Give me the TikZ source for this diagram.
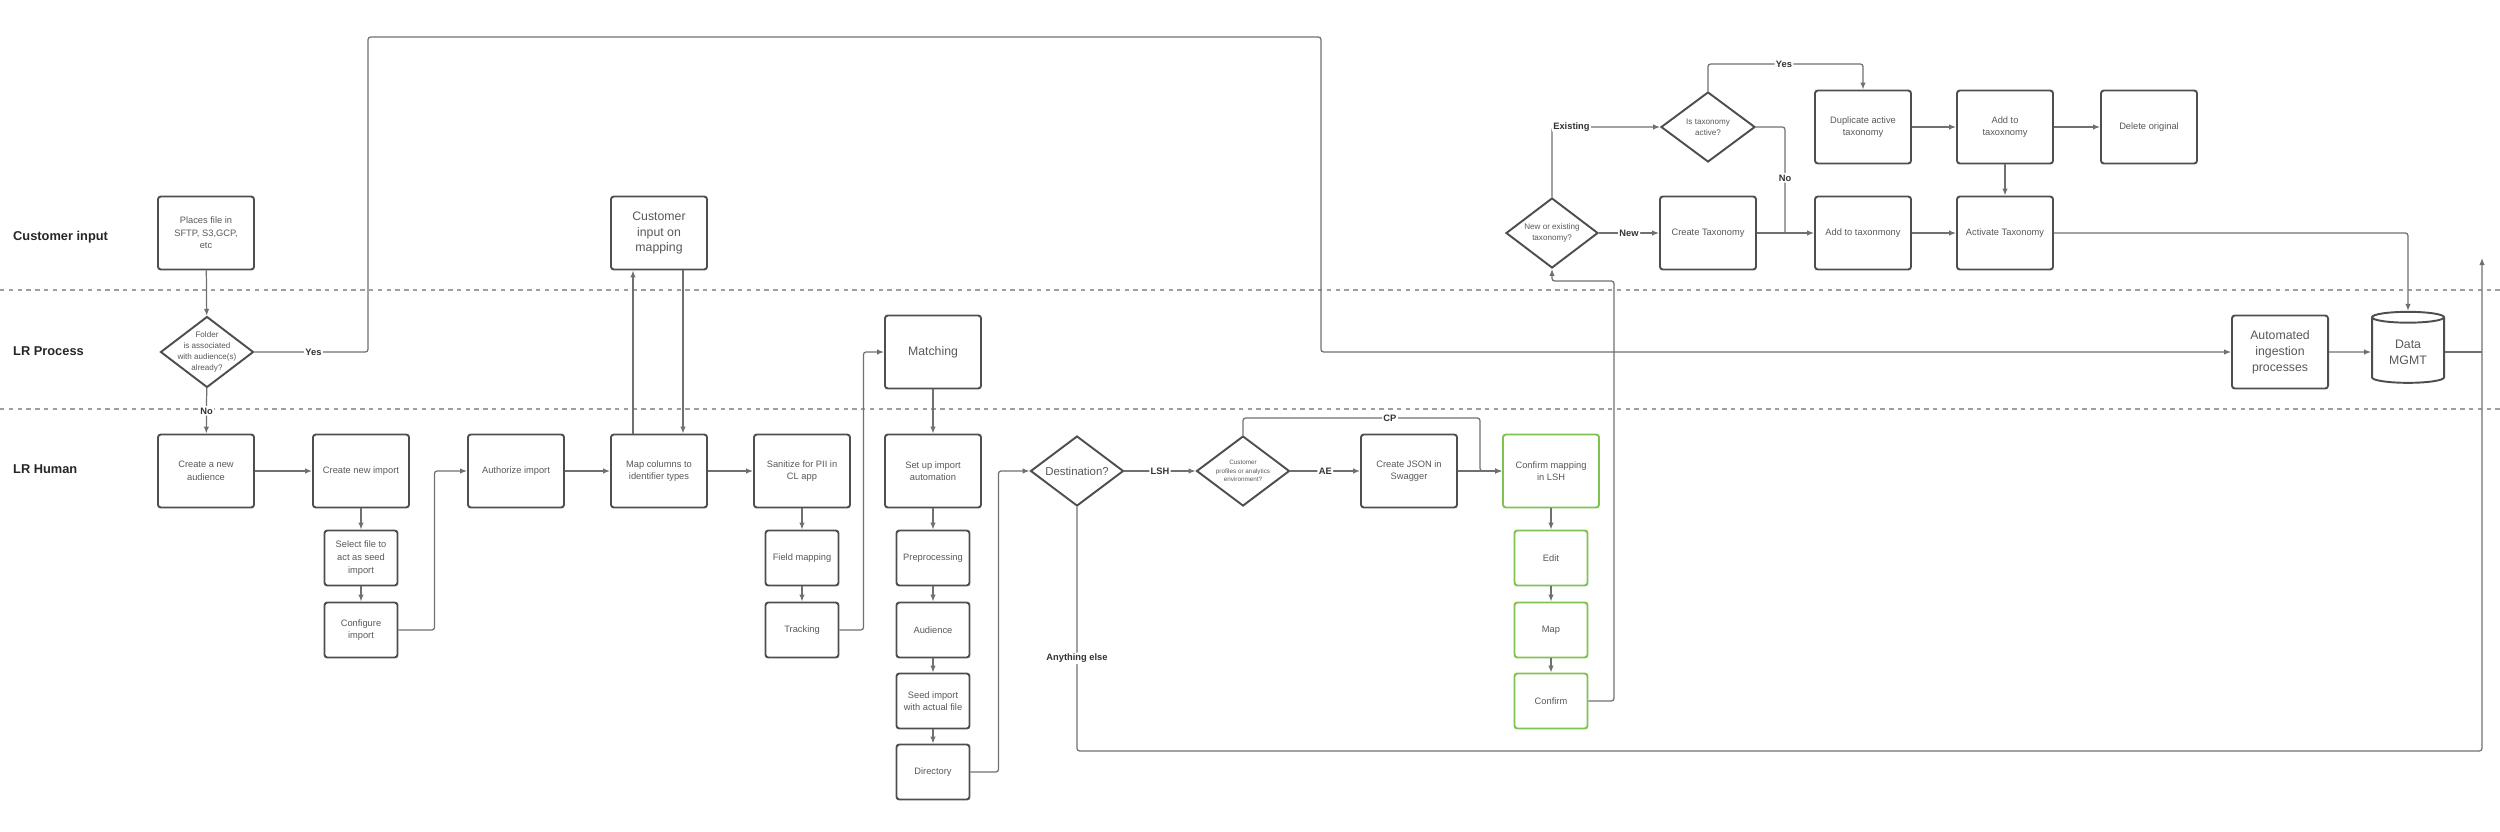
\documentclass[tikz,border=0pt]{standalone}
\usepackage{fontspec}
\setmainfont{Liberation Sans}
\usetikzlibrary{shapes.geometric,arrows.meta}

\definecolor{cinzalinha}{RGB}{112,112,112}
\definecolor{borda}{RGB}{78,78,78}
\definecolor{texto}{RGB}{88,88,88}
\definecolor{verde}{RGB}{128,194,78}

\tikzset{
  caixa/.style={draw=borda, line width=1.1pt, rounded corners=1.6pt,
    minimum width=1.92cm, minimum height=1.46cm, inner sep=1pt,
    align=center, text=texto, font=\fontsize{5.3}{7.2}\selectfont},
  caixap/.style={caixa, minimum width=1.46cm, minimum height=1.10cm},
  verdebox/.style={draw=verde},
  grande/.style={font=\fontsize{7}{9}\selectfont},
  decisao/.style={diamond, draw=borda, line width=1.1pt,
    minimum width=1.86cm, minimum height=1.40cm, inner sep=-4pt,
    align=center, text=texto, font=\fontsize{4.6}{6.2}\selectfont},
  banco/.style={cylinder, shape border rotate=90, aspect=0.22,
    draw=borda, line width=1.1pt, minimum width=1.44cm,
    minimum height=1.42cm, align=center, text=texto, grande},
  seta/.style={draw=cinzalinha, line width=0.7pt, rounded corners=1.5pt,
    -{Latex[length=1.4mm,width=1.1mm]}},
  fio/.style={draw=cinzalinha, line width=0.7pt, rounded corners=1.5pt},
  rotulo/.style={fill=white, inner sep=0.8pt, text=black!80,
    font=\fontsize{5.3}{6}\selectfont\bfseries},
  faixa/.style={anchor=west, text=black!85,
    font=\fontsize{7.3}{8}\selectfont\bfseries},
  divisa/.style={draw=gray!75, line width=0.7pt, dash pattern=on 2.5pt off 2.5pt}
}

\begin{document}
\begin{tikzpicture}

\useasboundingbox (0,0) rectangle (50,-16.62);

% FAIXAS
\draw[divisa] (0,-5.80) -- (50,-5.80);
\draw[divisa] (0,-8.18) -- (50,-8.18);

\node[faixa] (lcust) at (0.14,-4.74) {Customer input};
\node[faixa] (lproc) at (0.14,-7.02) {LR Process};
\node[faixa] (lhum) at (0.14,-9.38) {LR Human};

% AUDIENCIA
\node[caixa] (places) at (4.12,-4.66) {Places file in\\SFTP, S3,GCP,\\etc};
\node[decisao] (folder) at (4.14,-7.04) {Folder\\is associated\\with audience(s)\\already?};
\node[caixa] (newaud) at (4.12,-9.42) {Create a new\\audience};

% IMPORTACAO
\node[caixa] (newimp) at (7.22,-9.42) {Create new import};
\node[caixap] (selfile) at (7.22,-11.16) {Select file to\\act as seed\\import};
\node[caixap] (confimp) at (7.22,-12.60) {Configure\\import};
\node[caixa] (auth) at (10.32,-9.42) {Authorize import};

% MAPEAMENTO
\node[caixa, grande] (custmap) at (13.18,-4.66) {Customer\\input on\\mapping};
\node[caixa] (mapcol) at (13.18,-9.42) {Map columns to\\identifier types};
\node[caixa] (sanit) at (16.04,-9.42) {Sanitize for PII in\\CL app};
\node[caixap] (fieldmap) at (16.04,-11.16) {Field mapping};
\node[caixap] (track) at (16.04,-12.60) {Tracking};

% AUTOMACAO
\node[caixa, grande] (match) at (18.66,-7.04) {Matching};
\node[caixa] (setup) at (18.66,-9.42) {Set up import\\automation};
\node[caixap] (prep) at (18.66,-11.16) {Preprocessing};
\node[caixap] (aud) at (18.66,-12.60) {Audience};
\node[caixap] (seed) at (18.66,-14.02) {Seed import\\with actual file};
\node[caixap] (dir) at (18.66,-15.44) {Directory};

% DESTINO
\node[decisao, font=\fontsize{6.5}{8}\selectfont] (dest) at (21.54,-9.42) {Destination?};
\node[decisao, font=\fontsize{3.6}{5}\selectfont] (cpae) at (24.86,-9.42) {Customer\\profiles or analytics\\environment?};
\node[caixa] (json) at (28.18,-9.42) {Create JSON in\\Swagger};

% LSH
\node[caixa, verdebox] (confmap) at (31.02,-9.42) {Confirm mapping\\in LSH};
\node[caixap, verdebox] (edit) at (31.02,-11.16) {Edit};
\node[caixap, verdebox] (mapg) at (31.02,-12.60) {Map};
\node[caixap, verdebox] (confirm) at (31.02,-14.02) {Confirm};

% TAXONOMIA
\node[decisao, minimum width=1.84cm] (newex) at (31.04,-4.66) {New or existing\\taxonomy?};
\node[decisao, minimum width=1.88cm] (istax) at (34.16,-2.54) {Is taxonomy\\active?};
\node[caixa] (createtax) at (34.16,-4.66) {Create Taxonomy};
\node[caixa] (dup) at (37.26,-2.54) {Duplicate active\\taxonomy};
\node[caixa] (addb) at (37.26,-4.66) {Add to taxonmony};
\node[caixa] (addt) at (40.10,-2.54) {Add to\\taxoxnomy};
\node[caixa] (activ) at (40.10,-4.66) {Activate Taxonomy};
\node[caixa] (delorig) at (42.98,-2.54) {Delete original};

% INGESTAO
\node[caixa, grande] (autoing) at (45.60,-7.04) {Automated\\ingestion\\processes};
\node[banco] (datam) at (48.16,-7.04) {Data\\MGMT};

% PONTOS DE DOBRA
\coordinate (topoesq) at (7.36,-0.74);
\coordinate (topodir) at (26.42,-0.74);
\coordinate (cpcanto) at (29.60,-8.36);
\coordinate (retorno) at (32.28,-5.62);
\coordinate (yesc) at (35.68,-1.28);
\coordinate (noc) at (35.70,-4.66);
\coordinate (fimbaixo) at (49.64,-15.02);
\coordinate (fimtopo) at (49.64,-5.16);

% SETAS AUDIENCIA / IMPORTACAO
\draw[seta] (places) -- (folder);
\draw[seta] (folder) -- node[rotulo]{No} (newaud);
\draw[seta] (folder.east) -| node[rotulo, pos=0.26]{Yes} (topoesq)
  -- (topodir) |- (autoing.west);
\draw[seta] (newaud) -- (newimp);
\draw[seta] (newimp) -- (selfile);
\draw[seta] (selfile) -- (confimp);
\draw[seta] (confimp.east) -- ++(0.72,0) |- (auth.west);
\draw[seta] (auth) -- (mapcol);

% SETAS MAPEAMENTO
\draw[seta] ([xshift=-0.52cm]mapcol.north) -- ([xshift=-0.52cm]custmap.south);
\draw[seta] ([xshift=0.48cm]custmap.south) -- ([xshift=0.48cm]mapcol.north);
\draw[seta] (mapcol) -- (sanit);
\draw[seta] (sanit) -- (fieldmap);
\draw[seta] (fieldmap) -- (track);
\draw[seta] (track.east) -- ++(0.48,0) |- (match.west);

% SETAS AUTOMACAO
\draw[seta] (match) -- (setup);
\draw[seta] (setup) -- (prep);
\draw[seta] (prep) -- (aud);
\draw[seta] (aud) -- (seed);
\draw[seta] (seed) -- (dir);
\draw[seta] (dir.east) -- ++(0.56,0) |- (dest.west);

% SETAS DESTINO
\draw[seta] (dest) -- node[rotulo]{LSH} (cpae);
\draw[seta] (cpae) -- node[rotulo]{AE} (json);
\draw[seta] (json) -- (confmap);
\draw[seta] (cpae.north) |- node[rotulo, pos=0.81]{CP} (cpcanto) |- (confmap.west);
\draw[seta] (dest.south) |- node[rotulo, pos=0.31]{Anything else} (fimbaixo)
  -- (fimtopo);

% SETAS LSH
\draw[seta] (confmap) -- (edit);
\draw[seta] (edit) -- (mapg);
\draw[seta] (mapg) -- (confirm);
\draw[seta] (confirm.east) -| (retorno) -| (newex.south);

% SETAS TAXONOMIA
\draw[seta] (newex) -- node[rotulo]{New} (createtax);
\draw[seta] (newex.north) |- node[rotulo, pos=0.59]{Existing} (istax.west);
\draw[seta] (istax.north) |- (yesc) node[rotulo]{Yes} -| (dup.north);
\draw[fio] (istax.east) -| node[rotulo, pos=0.74]{No} (noc);
\draw[seta] (createtax) -- (addb);
\draw[seta] (dup) -- (addt);
\draw[seta] (addt) -- (delorig);
\draw[seta] (addt) -- (activ);
\draw[seta] (addb) -- (activ);
\draw[seta] (activ.east) -| (datam.north);

% SAIDA
\draw[seta] (autoing) -- (datam);
\draw[fio] (datam.east) -- (datam.east -| fimtopo);

\end{tikzpicture}
\end{document}
